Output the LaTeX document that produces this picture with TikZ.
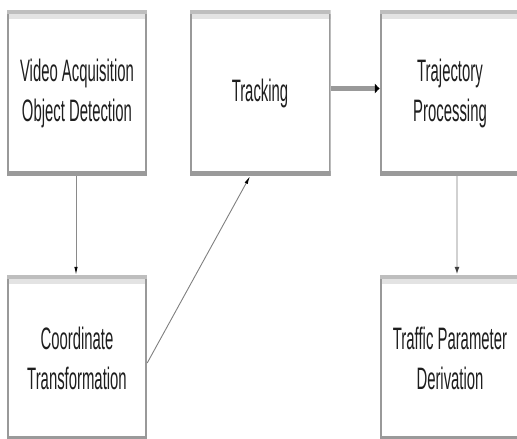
\documentclass[tikz,border=0pt]{standalone}
\usepackage{fontspec}
\newfontfamily\narrowsans[FakeStretch=0.48]{Liberation Sans}
\usetikzlibrary{arrows.meta}
\definecolor{sidegray}{HTML}{999999}
\definecolor{topdark}{HTML}{BEBEBE}
\definecolor{toplight}{HTML}{E3E3E3}
\definecolor{botgray}{HTML}{9A9A9A}
\definecolor{txt}{HTML}{1E1E1E}
\tikzset{
  blockbox/.style={rectangle, minimum width=140pt, minimum height=166pt, inner sep=0pt,
    align=center, text=txt, font={\narrowsans\fontsize{31pt}{40pt}\selectfont},
    path picture={
      \fill[topdark] (path picture bounding box.north west) rectangle ([yshift=-4pt]path picture bounding box.north east);
      \fill[toplight] ([yshift=-4pt]path picture bounding box.north west) rectangle ([yshift=-9pt]path picture bounding box.north east);
      \fill[botgray] ([yshift=5pt]path picture bounding box.south west) rectangle (path picture bounding box.south east);
      \draw[sidegray, line width=2pt] ([xshift=1pt,yshift=-4pt]path picture bounding box.north west) -- ([xshift=1pt]path picture bounding box.south west);
      \draw[sidegray, line width=2pt] ([xshift=-1pt,yshift=-4pt]path picture bounding box.north east) -- ([xshift=-1pt]path picture bounding box.south east);
    }},
  thinlink/.style={draw=#1, line width=0.9pt, -{Latex[length=8pt,width=3.5pt,color=black]}},
}
\begin{document}
\begin{tikzpicture}[x=1pt,y=-1pt]
\fill[white] (0,0) rectangle (517,439);
\useasboundingbox (0,0) rectangle (517,439);
\clip (0,0) rectangle (517,439);
\node[blockbox] (b1) at (77,93) {Video Acquisition\\Object Detection};
\node[blockbox, minimum width=141pt] (b2) at (260,93) {Tracking};
\node[blockbox] (b3) at (450,93) {Trajectory\\Processing};
\node[blockbox] (b4) at (77,358) {Coordinate\\Transformation};
\node[blockbox] (b5) at (450,358) {Traffic Parameter\\Derivation};
\draw[thinlink=sidegray!90!black] ([xshift=-1pt]b1.south) -- ([xshift=-1pt]b4.north);
\draw[thinlink=gray] ([yshift=-5pt]b4.east) -- ([xshift=-10pt]b2.south);
\draw[draw=sidegray, line width=4.5pt, -{Latex[length=5pt,width=11pt,color=black]}] ([yshift=4.5pt]b2.east) -- ([yshift=4.5pt]b3.west);
\draw[draw=black!18, line width=2.5pt, -{Latex[length=8pt,width=5pt,color=black!75]}] ([xshift=7pt]b3.south) -- ([xshift=7pt]b5.north);
\end{tikzpicture}
\end{document}
